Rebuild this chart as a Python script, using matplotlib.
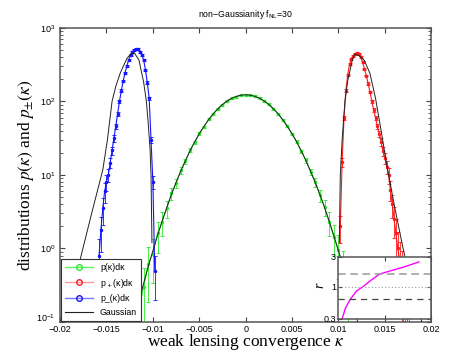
import numpy as np
import matplotlib
matplotlib.use('Agg')
import matplotlib.pyplot as plt
from matplotlib.lines import Line2D

plt.rcParams['font.family'] = ['Liberation Sans', 'DejaVu Sans']

# ---- data ----
# p(kappa) measured (green)
green_k = [-0.0115, -0.0110, -0.0105, -0.0100, -0.0095, -0.0090, -0.0085, -0.0080,
           -0.0075, -0.0070, -0.0065, -0.0060, -0.0055, -0.0050, -0.0045, -0.0040,
           -0.0035, -0.0030, -0.0025, -0.0020, -0.0015, -0.0010, -0.0005, 0.0,
           0.0005, 0.0010, 0.0015, 0.0020, 0.0025, 0.0030, 0.0035, 0.0040,
           0.0045, 0.0050, 0.0055, 0.0060, 0.0065, 0.0070, 0.0075, 0.0080,
           0.0085, 0.0090, 0.0095, 0.0100, 0.0105, 0.0110]
green_p = [0.15, 0.30, 0.62, 0.85, 1.6, 2.3, 3.5, 5.6,
           7.7, 11.5, 15.3, 21.6, 27.8, 36.8, 45.2, 56.9,
           67.0, 79.8, 90.1, 101.8, 110.7, 116.5, 121.8, 122.5,
           121.0, 117.6, 109.8, 100.6, 91.2, 78.8, 68.1, 55.9,
           46.0, 35.9, 28.4, 20.9, 15.8, 11.0, 8.0, 5.3,
           3.7, 2.3, 1.45, 0.95, 0.55, 0.32]
green_rel = [0.9, 0.8, 0.7, 0.6, 0.45, 0.35, 0.25, 0.18,
             0.14, 0.1, 0.08, 0.06, 0.05, 0.04, 0.035, 0.03,
             0.03, 0.03, 0.03, 0.03, 0.03, 0.03, 0.03, 0.03,
             0.03, 0.03, 0.03, 0.03, 0.03, 0.03, 0.03, 0.03,
             0.035, 0.04, 0.05, 0.06, 0.08, 0.1, 0.14, 0.18,
             0.25, 0.35, 0.45, 0.6, 0.7, 0.8]

# p_-(kappa) measured (blue)
blue_k = [-0.0158, -0.0156, -0.0154, -0.0152, -0.0150, -0.0148, -0.0146, -0.0144,
          -0.0142, -0.0140, -0.0138, -0.0136, -0.0134, -0.0132, -0.0130, -0.0128,
          -0.0126, -0.0124, -0.0122, -0.0120, -0.0118, -0.0116, -0.0114, -0.0112,
          -0.0110, -0.0108, -0.0106, -0.0104, -0.0102, -0.0100, -0.0098]
blue_p = [0.8, 1.8, 3.5, 6.0, 8.0, 10.0, 14.7, 21.5,
          31.6, 46.0, 68.0, 100.0, 140.0, 190.0, 245.0, 305.0,
          370.0, 425.0, 470.0, 500.0, 520.0, 510.0, 470.0, 430.0,
          370.0, 270.0, 180.0, 110.0, 30.0, 8.0, 0.5]
blue_rel = [0.7, 0.5, 0.4, 0.3, 0.25, 0.2, 0.15, 0.12,
            0.1, 0.08, 0.06, 0.05, 0.04, 0.04, 0.03, 0.03,
            0.03, 0.03, 0.03, 0.03, 0.03, 0.03, 0.03, 0.03,
            0.03, 0.03, 0.04, 0.05, 0.1, 0.2, 0.6]

# p_+(kappa) measured (red)
red_k = [0.0102, 0.0104, 0.0106, 0.0108, 0.0110, 0.0112, 0.0114, 0.0116,
         0.0118, 0.0120, 0.0122, 0.0124, 0.0126, 0.0128, 0.0130, 0.0132,
         0.0134, 0.0136, 0.0138, 0.0140, 0.0142, 0.0144, 0.0146, 0.0148,
         0.0150, 0.0152, 0.0154, 0.0156, 0.0158, 0.0160, 0.0162, 0.0164,
         0.0166, 0.0168, 0.0170, 0.0172, 0.0174, 0.0176]
red_p = [2.0, 15.0, 60.0, 140.0, 230.0, 320.0, 380.0, 420.0,
         445.0, 450.0, 440.0, 400.0, 340.0, 280.0, 225.0, 175.0,
         135.0, 100.0, 77.0, 60.0, 46.0, 36.0, 28.0, 21.0,
         17.0, 13.0, 10.0, 6.3, 4.0, 2.5, 1.6, 1.0,
         0.7, 0.5, 0.4, 0.3, 0.25, 0.2]
red_rel = [0.4, 0.15, 0.06, 0.04, 0.03, 0.03, 0.03, 0.03,
           0.03, 0.03, 0.03, 0.03, 0.03, 0.03, 0.03, 0.04,
           0.04, 0.05, 0.06, 0.07, 0.08, 0.1, 0.12, 0.14,
           0.16, 0.2, 0.25, 0.3, 0.35, 0.45, 0.55, 0.65,
           0.75, 0.85, 0.9, 0.9, 0.9, 0.9]

# "Gaussian" predictions (black)
gauss_k = [-0.0122, -0.0120, -0.0115, -0.0110, -0.0105, -0.0100, -0.0095, -0.0090,
           -0.0085, -0.0080, -0.0075, -0.0070, -0.0065, -0.0060, -0.0055, -0.0050,
           -0.0045, -0.0040, -0.0035, -0.0030, -0.0025, -0.0020, -0.0015, -0.0010,
           -0.0005, 0.0, 0.0005, 0.0010, 0.0015, 0.0020, 0.0025, 0.0030,
           0.0035, 0.0040, 0.0045, 0.0050, 0.0055, 0.0060, 0.0065, 0.0070,
           0.0075, 0.0080, 0.0085, 0.0090, 0.0095, 0.0100, 0.0105, 0.0110,
           0.0115, 0.0120, 0.0122]
gauss_p = [0.086, 0.109, 0.193, 0.334, 0.565, 0.93, 1.50, 2.36,
           3.62, 5.41, 7.90, 11.2, 15.6, 21.2, 28.1, 36.3,
           45.7, 56.3, 67.6, 79.3, 90.6, 101.2, 110.2, 117.1,
           121.5, 123.0, 121.5, 117.1, 110.2, 101.2, 90.6, 79.3,
           67.6, 56.3, 45.7, 36.3, 28.1, 21.2, 15.6, 11.2,
           7.90, 5.41, 3.62, 2.36, 1.50, 0.93, 0.565, 0.334,
           0.193, 0.109, 0.086]

minus_k = [-0.0196, -0.0186, -0.0178, -0.0166, -0.0154, -0.0149, -0.0144, -0.0140,
           -0.0135, -0.0128, -0.0124, -0.0120, -0.0115, -0.0110, -0.0107, -0.0105,
           -0.0103, -0.0102, -0.0101]
minus_p = [0.1, 0.3, 0.74, 3.0, 11.7, 30.0, 100.0, 160.0,
           246.0, 384.0, 440.0, 457.0, 365.0, 184.0, 100.0, 50.0,
           22.0, 10.0, 1.2]

plus_k = [0.0101, 0.0102, 0.0104, 0.0107, 0.0110, 0.0115, 0.0118, 0.0122,
          0.0128, 0.0134, 0.0140, 0.0146, 0.0152, 0.0160, 0.0169, 0.0175,
          0.0182, 0.0190]
plus_p = [1.2, 10.0, 30.0, 100.0, 190.0, 370.0, 440.0, 420.0,
          360.0, 240.0, 110.0, 40.0, 14.0, 4.0, 1.1, 0.5,
          0.22, 0.1]

# inset ratio r
r_k = [0.01044, 0.0108, 0.01134, 0.0120, 0.0127, 0.0135, 0.0145, 0.0150,
       0.0160, 0.0170, 0.0180, 0.0187]
r_val = [0.3, 0.45, 0.63, 0.85, 1.0, 1.25, 1.6, 1.68,
         1.86, 2.05, 2.3, 2.5]
r_levels = [1.6, 1.0, 0.625]

xtick_vals = [-0.02, -0.015, -0.01, -0.005, 0, 0.005, 0.01, 0.015, 0.02]
xtick_labels = ['\u22120.02', '\u22120.015', '\u22120.01', '\u22120.005', '0',
                '0.005', '0.01', '0.015', '0.02']
ytick_vals = [0.1, 1, 10, 100, 1000]

c_green = '#2be82b'
c_red = '#ff1a1a'
c_blue = '#1414ff'

fig = plt.figure(figsize=(4.77, 3.64), dpi=100)
ax = fig.add_axes([0.126, 0.1154, 0.778, 0.808])


def draw(k, p, rel, color):
    p = np.array(p)
    err = p * np.array(rel)
    lo = np.minimum(err, p - 1e-3)
    ax.errorbar(k, p, yerr=[lo, err], fmt='.-', color=color, ms=3, lw=0.8,
                elinewidth=0.6, capsize=1.5, capthick=0.6, zorder=2)


draw(green_k, green_p, green_rel, c_green)
draw(blue_k, blue_p, blue_rel, c_blue)
draw(red_k, red_p, red_rel, c_red)

ax.plot(gauss_k, gauss_p, color='#222222', lw=0.7, zorder=3)
ax.plot(minus_k, minus_p, color='#222222', lw=0.7, zorder=3)
ax.plot(plus_k, plus_p, color='#222222', lw=0.7, zorder=3)

ax.set_yscale('log')
ax.set_xlim(-0.02, 0.02)
ax.set_ylim(0.1, 1000)
ax.set_yticks(ytick_vals)
ax.set_xticks(xtick_vals)
ax.set_xticklabels(xtick_labels)
ax.tick_params(which='both', direction='in', top=True, right=True, labelsize=6.5,
               color='#444444')
ax.tick_params(which='major', length=3.5)
ax.tick_params(which='minor', length=2)
ax.tick_params(axis='x', pad=2)
for s in ax.spines.values():
    s.set_color('#555555')
    s.set_linewidth(1.1)
# lift the lowest y label a little so it clears the -0.02 label
ax.yaxis.get_major_ticks()[0].label1.set_verticalalignment('baseline')

ax.set_title('non\u2212Gaussianity f$_{\\mathrm{NL}}$=30', fontsize=6.3, pad=8)
ax.set_xlabel(r'weak lensing convergence $\kappa$', family='Liberation Serif',
              fontsize=12.5, math_fontfamily='stix', labelpad=-1)
ax.set_ylabel(r'distributions $p(\kappa)$ and $p_{\pm}(\kappa)$',
              family='Liberation Serif', fontsize=12.5, math_fontfamily='stix',
              labelpad=0)

handles = [
    Line2D([], [], color='#66f066', marker='o', mfc='none', mec=c_green, ms=4, lw=1),
    Line2D([], [], color='#ff9a9a', marker='o', mfc='none', mec=c_red, ms=4, lw=1),
    Line2D([], [], color='#7a7aff', marker='o', mfc='none', mec=c_blue, ms=4, lw=1),
    Line2D([], [], color='#222222', lw=0.8),
]
labels = ['p(\u03ba)d\u03ba', 'p$_+$(\u03ba)d\u03ba', 'p_(\u03ba)d\u03ba', 'Gaussian']
leg = ax.legend(handles, labels, loc='lower left', fontsize=6.3, fancybox=False,
                edgecolor='#333333', framealpha=1, borderaxespad=0.15,
                handlelength=3.2, labelspacing=0.55, borderpad=0.4)
leg.get_frame().set_linewidth(0.8)

# inset with ratio r
axin = fig.add_axes([338 / 477, 1 - 319 / 364, 93 / 477, 62 / 364])
axin.plot(r_k, r_val, color='#ff00ff', lw=1.0)
axin.axhline(r_levels[0], color='#999999', ls=(0, (5, 3)), lw=1.1)
axin.axhline(r_levels[1], color='#999999', ls=(0, (1, 2)), lw=0.8)
axin.axhline(r_levels[2], color='#444444', ls=(0, (5, 4)), lw=0.9)
axin.set_yscale('log')
axin.set_xlim(0.01, 0.02)
axin.set_ylim(0.3, 3)
axin.set_yticks([0.3, 1, 3])
axin.set_yticklabels(['0.3', '1', '3'])
axin.yaxis.set_minor_locator(matplotlib.ticker.NullLocator())
axin.set_xticks([0.015, 0.02])
axin.set_xticklabels([])
axin.tick_params(direction='in', labelsize=6.5, length=3, top=True, right=True,
                 pad=1.5, color='#444444')
for s in axin.spines.values():
    s.set_color('#555555')
    s.set_linewidth(1.1)
axin.set_ylabel('r', family='Liberation Serif', style='italic', fontsize=10)
axin.yaxis.set_label_coords(-0.12, 0.55)

fig.savefig('out.png', dpi=100)
